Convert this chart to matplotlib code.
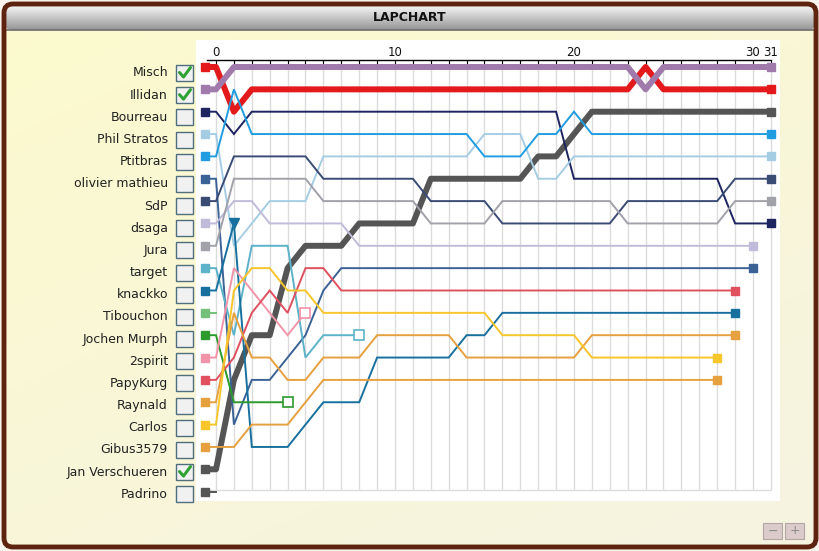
import numpy as np
import matplotlib
matplotlib.use("Agg")
import matplotlib.pyplot as plt
from matplotlib.patches import Rectangle, FancyBboxPatch

drivers = ["Misch", "Illidan", "Bourreau", "Phil Stratos", "Ptitbras", "olivier mathieu",
           "SdP", "dsaga", "Jura", "target", "knackko", "Tibouchon", "Jochen Murph",
           "2spirit", "PapyKurg", "Raynald", "Carlos", "Gibus3579", "Jan Verschueren", "Padrino"]

colors = ["#e3191c", "#a07aaa", "#1e2460", "#a4cde4", "#1f9de0", "#3b6296",
          "#3a4b74", "#bfbbd8", "#a1a1aa", "#5cb3c9", "#17709e", "#74c07b", "#2c9a2c",
          "#f294a9", "#e0505f", "#e6a03e", "#f8c52b", "#e6a03e", "#555555", "#555555"]

# race position after each lap, lap 0 first
misch = [1, 3, 2, 2, 2, 2, 2, 2, 2, 2,
         2, 2, 2, 2, 2, 2, 2, 2, 2, 2,
         2, 2, 2, 2, 1, 2, 2, 2, 2, 2,
         2, 2]
illidan = [2, 1, 1, 1, 1, 1, 1, 1, 1, 1,
           1, 1, 1, 1, 1, 1, 1, 1, 1, 1,
           1, 1, 1, 1, 2, 1, 1, 1, 1, 1,
           1, 1]
bourreau = [3, 4, 3, 3, 3, 3, 3, 3, 3, 3,
            3, 3, 3, 3, 3, 3, 3, 3, 3, 3,
            6, 6, 6, 6, 6, 6, 6, 6, 6, 8,
            8, 8]
phil_stratos = [4, 9, 8, 7, 7, 7, 5, 5, 5, 5,
                5, 5, 5, 5, 5, 4, 4, 4, 6, 6,
                5, 5, 5, 5, 5, 5, 5, 5, 5, 5,
                5, 5]
ptitbras = [5, 2, 4, 4, 4, 4, 4, 4, 4, 4,
            4, 4, 4, 4, 4, 5, 5, 5, 4, 4,
            3, 4, 4, 4, 4, 4, 4, 4, 4, 4,
            4, 4]
olivier_mathieu = [6, 17, 15, 15, 14, 13, 11, 10, 10, 10,
                   10, 10, 10, 10, 10, 10, 10, 10, 10, 10,
                   10, 10, 10, 10, 10, 10, 10, 10, 10, 10,
                   10]
sdp = [7, 5, 5, 5, 5, 5, 6, 6, 6, 6,
       6, 6, 7, 7, 7, 7, 8, 8, 8, 8,
       8, 8, 8, 7, 7, 7, 7, 7, 7, 6,
       6, 6]
dsaga = [8, 7, 7, 8, 8, 8, 8, 8, 9, 9,
         9, 9, 9, 9, 9, 9, 9, 9, 9, 9,
         9, 9, 9, 9, 9, 9, 9, 9, 9, 9,
         9]
jura = [9, 6, 6, 6, 6, 6, 7, 7, 7, 7,
        7, 7, 8, 8, 8, 8, 7, 7, 7, 7,
        7, 7, 7, 8, 8, 8, 8, 8, 8, 7,
        7, 7]
target = [10, 13, 9, 9, 9, 14, 13, 13, 13]
knackko = [11, 8, 18, 18, 18, 17, 16, 16, 16, 14,
           14, 14, 14, 14, 13, 13, 12, 12, 12, 12,
           12, 12, 12, 12, 12, 12, 12, 12, 12, 12]
tibouchon = [12]
jochen_murph = [13, 16, 16, 16, 16]
spirit2 = [14, 10, 11, 12, 13, 12]
papykurg = [15, 14, 12, 11, 12, 10, 10, 11, 11, 11,
            11, 11, 11, 11, 11, 11, 11, 11, 11, 11,
            11, 11, 11, 11, 11, 11, 11, 11, 11, 11]
raynald = [16, 12, 14, 14, 15, 15, 14, 14, 14, 13,
           13, 13, 13, 13, 14, 14, 14, 14, 14, 14,
           14, 13, 13, 13, 13, 13, 13, 13, 13, 13]
carlos = [17, 11, 10, 10, 11, 11, 12, 12, 12, 12,
          12, 12, 12, 12, 12, 12, 13, 13, 13, 13,
          13, 14, 14, 14, 14, 14, 14, 14, 14]
gibus3579 = [18, 18, 17, 17, 17, 16, 15, 15, 15, 15,
             15, 15, 15, 15, 15, 15, 15, 15, 15, 15,
             15, 15, 15, 15, 15, 15, 15, 15, 15]
jan_verschueren = [19, 15, 13, 13, 10, 9, 9, 9, 8, 8,
                   8, 8, 6, 6, 6, 6, 6, 6, 5, 5,
                   4, 3, 3, 3, 3, 3, 3, 3, 3, 3,
                   3, 3]
padrino = [20]

positions = [misch, illidan, bourreau, phil_stratos, ptitbras, olivier_mathieu, sdp, dsaga,
             jura, target, knackko, tibouchon, jochen_murph, spirit2, papykurg, raynald,
             carlos, gibus3579, jan_verschueren, padrino]

highlighted = ["Misch", "Illidan", "Jan Verschueren"]   # ticked boxes, thick lines
retired = ["target", "Jochen Murph", "2spirit"]          # hollow square at last lap
flag_driver, flag_lap = "knackko", 1                      # the little triangle
tick_laps = [0, 10, 20, 30, 31]
n_laps = 31

W, H = 820, 551
fig = plt.figure(figsize=(W / 100, H / 100), dpi=100)
fig.patch.set_facecolor("#f7f5ee")

# ---- window decoration (pixel coords) ----
bg = fig.add_axes([0, 0, 1, 1])
bg.set_xlim(0, W)
bg.set_ylim(H, 0)
bg.axis("off")

frame = FancyBboxPatch((4, 4), W - 8, H - 8, boxstyle="round,pad=0,rounding_size=9",
                       fc="none", ec="#5e2410", lw=3.5, zorder=5)
bg.add_patch(frame)
yy, xx = np.mgrid[0:1:60j, 0:1:80j]
t = np.clip(0.6 * yy + 0.4 * xx, 0, 1)[..., None]
c_top = np.array([252, 250, 205]) / 255
c_bot = np.array([246, 243, 226]) / 255
grad = c_top * (1 - t) + c_bot * t
im = bg.imshow(grad, extent=(4, W - 4, H - 4, 4), aspect="auto", zorder=1, interpolation="bilinear")
im.set_clip_path(frame)

bar = FancyBboxPatch((5, 5), W - 10, 25, boxstyle="round,pad=0,rounding_size=7",
                     fc="none", ec="none", zorder=2)
bg.add_patch(bar)
g = np.linspace(0, 1, 40)[:, None, None]
bar_grad = np.array([248, 248, 248]) / 255 * (1 - g) + np.array([150, 150, 150]) / 255 * g
bar_im = bg.imshow(np.repeat(bar_grad, 2, axis=1), extent=(5, W - 5, 30, 5), aspect="auto",
                   zorder=2, interpolation="bilinear")
bar_im.set_clip_path(bar)
bg.plot([5, W - 5], [30, 30], color="#6d6d6d", lw=1.2, zorder=3)
bg.text(W / 2, 17.5, "LAPCHART", ha="center", va="center", fontsize=9,
        fontweight="bold", color="#111111", zorder=4)

bg.add_patch(Rectangle((196, 40), 584, 461, fc="white", ec="none", zorder=2))

# zoom buttons
for bx, sym in [(763, "\u2212"), (785, "+")]:
    bg.add_patch(Rectangle((bx, 523), 19, 16, fc="#dccbcb", ec="#b5a6a6", lw=0.8, zorder=3))
    bg.text(bx + 9.5, 531, sym, ha="center", va="center", fontsize=9, color="#8c8c8c", zorder=4)

# driver names and check boxes
for i, name in enumerate(drivers):
    yc = 73 + 22.17 * i
    bg.text(168, yc, name, ha="right", va="center", fontsize=9, color="#222222",
            family="DejaVu Sans", zorder=4)
    bg.add_patch(Rectangle((176, yc - 8), 17, 16, fc="#f1f1f1", ec="#4e6e7c", lw=1, zorder=4))
    if name in highlighted:
        bg.plot([179.5, 183.5, 190.5], [yc - 0.5, yc + 4, yc - 5.5], color="#2fa235",
                lw=2.2, solid_capstyle="round", solid_joinstyle="round", zorder=5)

# ---- lap chart ----
x0_px, dx_px = 216, 17.9
y0_px, dy_px = 67, 22.35
left_px, right_px, top_px, bot_px = 196, 780, 40, 501
ax = fig.add_axes([left_px / W, 1 - bot_px / H, (right_px - left_px) / W, (bot_px - top_px) / H])
ax.set_xlim((left_px - x0_px) / dx_px, (right_px - x0_px) / dx_px)
ax.set_ylim(1 + (bot_px - y0_px) / dy_px, 1 + (top_px - y0_px) / dy_px)
ax.patch.set_alpha(0)
axis_pos = 1 + (60 - y0_px) / dy_px
grid_bottom = 1 + (490 - y0_px) / dy_px

for s in ["left", "right", "bottom"]:
    ax.spines[s].set_visible(False)
ax.spines["top"].set_position(("data", axis_pos))
ax.spines["top"].set_bounds(-0.5, n_laps)
ax.spines["top"].set_linewidth(1)
ax.xaxis.set_ticks_position("top")
ax.set_xticks(tick_laps)
ax.set_xticks(range(n_laps + 1), minor=True)
ax.tick_params(axis="x", which="major", direction="in", length=6, width=0.8, pad=1,
               labelsize=8.5, colors="#111111")
ax.tick_params(axis="x", which="minor", direction="in", length=3, width=0.8)
ax.set_yticks([])

ax.vlines(range(n_laps + 1), axis_pos + 0.1, grid_bottom, color="#dcdcdc", lw=1, zorder=1)
ax.hlines(grid_bottom, -0.5, n_laps, color="#dcdcdc", lw=1, zorder=1)

start_x = -0.6
for name, col, pos in zip(drivers, colors, positions):
    thick = name in highlighted
    laps = np.arange(len(pos))
    xs = np.concatenate([[start_x], laps])
    ys = np.concatenate([[pos[0]], pos])
    ax.plot(xs, ys, color=col, lw=4.3 if thick else 1.4, zorder=2 if thick else 3,
            solid_joinstyle="round" if thick else "miter")
    ax.plot(start_x, pos[0], "s", color=col, ms=5.8, zorder=4)
    if len(pos) > 1:
        if name in retired:
            ax.plot(laps[-1], pos[-1], "s", mfc="white", mec=col, mew=1.2, ms=6.5, zorder=5)
        else:
            ax.plot(laps[-1], pos[-1], "s", color=col, ms=6, zorder=5)
    if name == flag_driver:
        ax.plot(flag_lap, pos[flag_lap], "v", color=col, ms=7, zorder=5)

fig.savefig("out.png", dpi=100, facecolor=fig.get_facecolor())
